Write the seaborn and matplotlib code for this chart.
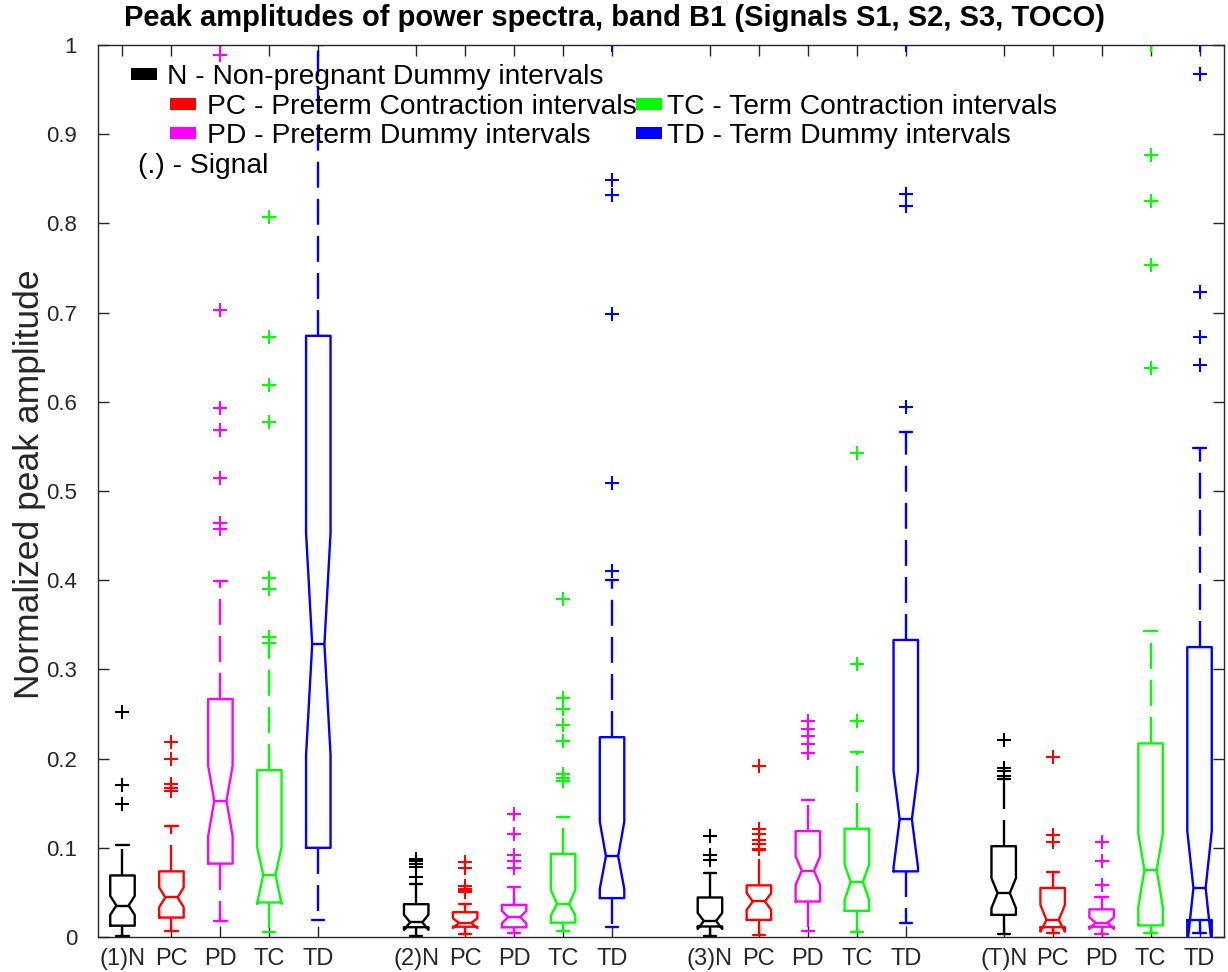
import numpy as np
import matplotlib
matplotlib.use("Agg")
import matplotlib.pyplot as plt
from matplotlib.patches import Rectangle
import seaborn as sns

# ---- data: box statistics per signal (1, 2, 3, TOCO) and class -------------
signals = ["1", "2", "3", "T"]
classes = ["N", "PC", "PD", "TC", "TD"]
class_colors = ["#000000", "#FF0000", "#FF00FF", "#00FF00", "#0000FF"]

# order: (1)N PC PD TC TD, (2)N ..., (3)N ..., (T)N ...
q1 = [0.0127, 0.0218, 0.0823, 0.0387, 0.1000,
      0.0110, 0.0115, 0.0109, 0.0161, 0.0436,
      0.0118, 0.0192, 0.0398, 0.0293, 0.0736,
      0.0248, 0.0110, 0.0115, 0.0130, 0.0190]
median = [0.0353, 0.0443, 0.1526, 0.0699, 0.3280,
          0.0165, 0.0158, 0.0222, 0.0372, 0.0905,
          0.0180, 0.0398, 0.0744, 0.0617, 0.1319,
          0.0493, 0.0190, 0.0160, 0.0752, 0.0550]
q3 = [0.0690, 0.0736, 0.2668, 0.1870, 0.6740,
      0.0368, 0.0278, 0.0360, 0.0932, 0.2240,
      0.0443, 0.0579, 0.1187, 0.1214, 0.3330,
      0.1018, 0.0550, 0.0310, 0.2170, 0.3250]
notch_lo = [0.0248, 0.0335, 0.1131, 0.0370, 0.2040,
            0.0080, 0.0100, 0.0154, 0.0240, 0.0541,
            0.0090, 0.0304, 0.0586, 0.0417, 0.0780,
            0.0324, 0.0060, 0.0090, 0.0340, -0.0090]
notch_hi = [0.0460, 0.0556, 0.1920, 0.1007, 0.4530,
            0.0250, 0.0210, 0.0295, 0.0530, 0.1293,
            0.0270, 0.0492, 0.0905, 0.0812, 0.1864,
            0.0660, 0.0360, 0.0220, 0.1158, 0.1190]
whisker_lo = [0.0015, 0.0071, 0.0180, 0.0060, 0.0192,
              0.0015, 0.0030, 0.0041, 0.0068, 0.0116,
              0.0015, 0.0023, 0.0068, 0.0060, 0.0154,
              0.0030, 0.0045, 0.0030, 0.0045, 0.0045]
whisker_hi = [0.1026, 0.1244, 0.3987, 0.3300, 1.0000,
              0.0594, 0.0372, 0.0556, 0.1345, 0.4000,
              0.0718, 0.0970, 0.1537, 0.2071, 0.5667,
              0.1770, 0.0733, 0.0450, 0.3430, 0.5480]
outliers = [
    [0.149, 0.1706, 0.252],
    [0.1635, 0.1675, 0.1715, 0.1996, 0.2183],
    [0.457, 0.4645, 0.515, 0.568, 0.593, 0.703, 0.989, 1.0],
    [0.336, 0.39, 0.402, 0.577, 0.6186, 0.673, 0.807],
    [],
    [0.0669, 0.079, 0.082, 0.085, 0.088],
    [0.050, 0.052, 0.054, 0.0567, 0.0774, 0.084],
    [0.0774, 0.0849, 0.0924, 0.115, 0.1383],
    [0.175, 0.178, 0.1826, 0.22, 0.238, 0.256, 0.268, 0.379],
    [0.41, 0.5085, 0.698, 0.832, 0.8486, 1.0],
    [0.0868, 0.0924, 0.113],
    [0.0985, 0.1037, 0.109, 0.115, 0.1206, 0.192],
    [0.206, 0.2165, 0.2251, 0.2334, 0.2427],
    [0.242, 0.3059, 0.5426],
    [0.594, 0.8196, 0.8327, 1.0],
    [0.181, 0.186, 0.19, 0.221],
    [0.106, 0.1139, 0.2015],
    [0.0586, 0.0857, 0.106],
    [0.6376, 0.7537, 0.8246, 0.8766, 1.0],
    [0.641, 0.6727, 0.7233, 0.968, 1.0],
]

ytick_values = [0, 0.1, 0.2, 0.3, 0.4, 0.5, 0.6, 0.7, 0.8, 0.9, 1]
ytick_labels = ["0", "0.1", "0.2", "0.3", "0.4", "0.5", "0.6", "0.7", "0.8", "0.9", "1"]

legend_labels = ["N - Non-pregnant Dummy intervals",
                 "PC - Preterm Contraction intervals",
                 "PD - Preterm Dummy intervals",
                 "TC - Term Contraction intervals",
                 "TD - Term Dummy intervals"]
signal_note = "(.) - Signal"
title = "Peak amplitudes of power spectra, band B1 (Signals S1, S2, S3, TOCO)"
ylabel = "Normalized peak amplitude"

# ---- style ----------------------------------------------------------------
sns.set_theme(style="ticks")
plt.rcParams["font.family"] = ["Liberation Sans", "DejaVu Sans"]
plt.rcParams["axes.edgecolor"] = "#262626"
plt.rcParams["axes.linewidth"] = 1.0

W, H = 1228, 972
fig = plt.figure(figsize=(W / 100, H / 100), dpi=100)
fig.patch.set_facecolor("white")
ax = fig.add_axes([98 / W, 35 / H, 1126 / W, 892 / H])

LW = 1.7
dash = (0, (11, 4.7))
positions = []
tick_labels = []

for g, sig in enumerate(signals):
    for k, cls in enumerate(classes):
        i = g * len(classes) + k
        pos = g * (len(classes) + 1) + k + 1
        positions.append(pos)
        tick_labels.append(f"({sig}){cls}" if k == 0 else cls)
        c = class_colors[k]
        stats = dict(
            med=median[i], q1=q1[i], q3=q3[i],
            cilo=notch_lo[i], cihi=notch_hi[i],
            whislo=whisker_lo[i], whishi=whisker_hi[i],
            mean=median[i], iqr=q3[i] - q1[i],
            fliers=np.asarray(outliers[i], dtype=float),
        )
        sns.boxplot(
            x=[pos], y=[median[i]], orient="x", native_scale=True,
            width=0.5, fill=False, color=c, saturation=1, linewidth=LW,
            notch=True, bxpstats=[stats], capwidths=0.25,
            boxprops=dict(color=c, linewidth=LW),
            medianprops=dict(color=c, linewidth=LW),
            whiskerprops=dict(color=c, linewidth=LW, linestyle=dash),
            capprops=dict(color=c, linewidth=LW),
            flierprops=dict(marker="+", markersize=10, markeredgewidth=1.5,
                            markeredgecolor=c, linestyle="none"),
            ax=ax,
        )

# ---- axes -----------------------------------------------------------------
ax.set_xlim(0.5, positions[-1] + 0.5)
ax.set_ylim(0, 1)
ax.set_xticks(positions)
ax.set_xticklabels(tick_labels)
ax.set_yticks(ytick_values)
ax.set_yticklabels(ytick_labels)
for side in ["top", "right", "bottom", "left"]:
    ax.spines[side].set_visible(True)
    ax.spines[side].set_color("#262626")
    ax.spines[side].set_linewidth(1.0)
ax.tick_params(axis="both", which="both", direction="in", top=True, right=True,
               bottom=True, left=True, length=8, width=1.0, color="#262626",
               labelcolor="#262626")
ax.tick_params(axis="x", pad=8, labelsize=17)
ax.tick_params(axis="y", pad=15, labelsize=16)
ax.set_xlabel("")
ax.set_ylabel(ylabel, fontsize=25.5, color="#262626")
ax.yaxis.set_label_coords(-0.046, 0.508)
ax.grid(False)

fig.text(0.5, 1 - 18 / H, title, ha="center", va="center",
         fontsize=21, fontweight="bold", color="black")

# ---- legend block (figure pixel layout) -----------------------------------
legend_rows = [  # patch left x, row centre y, text x
    (131, 74, 167),
    (170, 104, 207),
    (170, 133, 207),
    (636, 104, 667),
    (636, 133, 667),
]
for k, (px, py, tx) in enumerate(legend_rows):
    fig.add_artist(Rectangle((px / W, 1 - (py + 6) / H), 26 / W, 12 / H,
                             transform=fig.transFigure, facecolor=class_colors[k],
                             edgecolor="none"))
    fig.text(tx / W, 1 - py / H, legend_labels[k], ha="left", va="center_baseline",
             fontsize=20.3, color="black")
fig.text(138 / W, 1 - 163 / H, signal_note, ha="left", va="center_baseline",
         fontsize=20.3, color="black")

fig.savefig("out.png", dpi=100, facecolor="white")
